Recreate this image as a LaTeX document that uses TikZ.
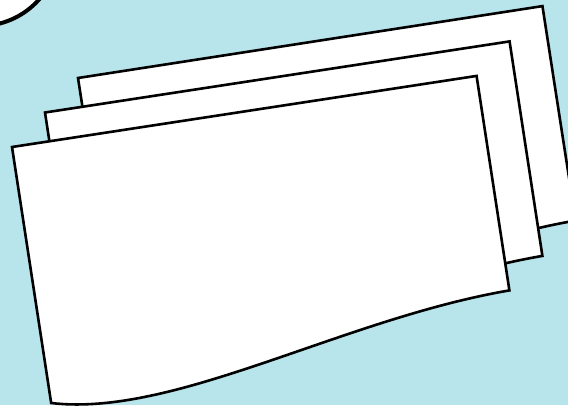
\documentclass[tikz,border=0pt]{standalone}
\definecolor{bgwater}{RGB}{184,229,236}
\tikzset{
  docsheet/.style={draw=black, line width=2.6pt, fill=white, line join=miter},
  bubble/.style={draw=black, line width=4pt, fill=white}
}
\newcommand{\docshape}{(0,0) -- (470,0) -- (470,217) .. controls (300,220) and (120,292) .. (0,259) -- cycle}
\begin{document}
\begin{tikzpicture}[x=1pt,y=-1pt]
  \useasboundingbox (0,0) rectangle (568,405);
  \clip (0,0) rectangle (568,405);
  \fill[bgwater] (0,0) rectangle (568,405);
  % corner bubble
  \draw[bubble] (-20,-53) circle[radius=79];
  % back sheet
  \begin{scope}[shift={(78,78)}, rotate=8.8]
    \draw[docsheet] \docshape;
  \end{scope}
  % middle sheet
  \begin{scope}[shift={(45,112.5)}, rotate=8.7]
    \draw[docsheet] \docshape;
  \end{scope}
  % front sheet
  \begin{scope}[shift={(12,147)}, rotate=8.7]
    \draw[docsheet] \docshape;
  \end{scope}
\end{tikzpicture}
\end{document}
